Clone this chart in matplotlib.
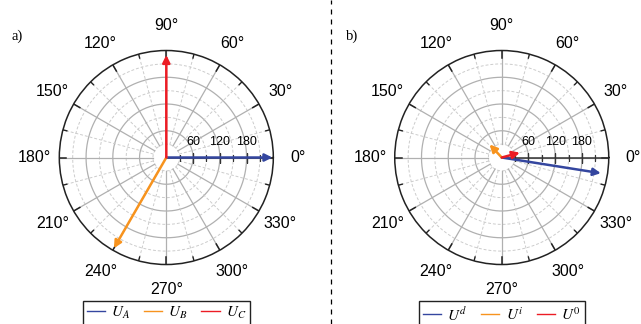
import numpy as np
import matplotlib.pyplot as plt
from matplotlib.lines import Line2D

plt.rcParams['font.family'] = ['Liberation Sans', 'DejaVu Sans']
plt.rcParams['mathtext.fontset'] = 'stix'

# panel a) phase voltages
a_labels = [r'$U_A$', r'$U_B$', r'$U_C$']
a_angles = [0, 240, 90]
a_mags = [238, 235, 230]

# panel b) sequence components
b_labels = [r'$U^{d}$', r'$U^{i}$', r'$U^{0}$']
b_angles = [351, 133, 15]
b_mags = [225, 40, 42]

colors = ['#34469f', '#f7931e', '#ec1c24']
r_max = 240
r_labels = [60, 120, 180]
theta_labels = list(range(0, 360, 30))


def draw_polar(ax, angles, mags):
    ax.set_ylim(0, r_max)
    ax.set_xticks([])
    ax.set_yticks([])
    ax.grid(False)
    ax.spines['polar'].set_color('#222222')
    ax.spines['polar'].set_linewidth(1.1)

    full = np.linspace(0, 2 * np.pi, 361)
    # circles: solid at 60/120/180, dashed in between
    for r in [60, 120, 180]:
        ax.plot(full, np.full_like(full, r), color='#b0b0b0', lw=0.9, zorder=1)
    for r in [30, 90, 150, 210]:
        ax.plot(full, np.full_like(full, r), color='#cccccc', lw=0.7, ls=(0, (3, 2)), zorder=1)
    # spokes
    for d in range(0, 360, 30):
        t = np.radians(d)
        ax.plot([t, t], [30, r_max], color='#b0b0b0', lw=0.9, zorder=1)
        ax.plot([t, t], [r_max - 16, r_max], color='#222222', lw=1.1, zorder=2)
    for d in range(15, 360, 30):
        t = np.radians(d)
        ax.plot([t, t], [30, r_max], color='#cccccc', lw=0.7, ls=(0, (3, 2)), zorder=1)
        ax.plot([t, t], [r_max - 9, r_max], color='#222222', lw=1.0, zorder=2)
    # radial axis along 0 deg
    ax.plot([0, 0], [0, r_max], color='#333333', lw=1.1, zorder=2)
    ax.plot(np.zeros(3), [60, 120, 180], ls='none', marker='|', ms=7,
            mew=1.0, color='#333333', zorder=2)
    ax.plot(np.zeros(4), [30, 90, 150, 210], ls='none', marker='|', ms=4,
            mew=0.9, color='#333333', zorder=2)
    for r in r_labels:
        ax.annotate(str(r), xy=(0, r), xytext=(0, 6.5), textcoords='offset points',
                    ha='center', va='bottom', fontsize=9)

    for d in theta_labels:
        ax.text(np.radians(d), 1.23 * r_max, f'{d}°', ha='center', va='center',
                fontsize=11.5, clip_on=False)

    for ang, mag, c in zip(angles, mags, colors):
        ax.annotate('', xy=(np.radians(ang), mag), xytext=(0, 0),
                    arrowprops=dict(arrowstyle='-|>', color=c, lw=1.8,
                                    mutation_scale=11, shrinkA=0, shrinkB=0),
                    zorder=4)

    return [Line2D([], [], color=c, lw=1.0) for c in colors]


fig = plt.figure(figsize=(6.41, 3.24), dpi=100)
ax1 = fig.add_axes([0.0925, 0.1836, 0.3339, 0.6605], projection='polar')
ax2 = fig.add_axes([0.6158, 0.1836, 0.3339, 0.6605], projection='polar')

h1 = draw_polar(ax1, a_angles, a_mags)
h2 = draw_polar(ax2, b_angles, b_mags)

for h, labs, xc in [(h1, a_labels, 166.3 / 641), (h2, b_labels, 501.7 / 641)]:
    fig.legend(h, labs, loc='upper center', bbox_to_anchor=(xc, 1 - 301 / 324), ncol=3,
               frameon=True, fancybox=False, edgecolor='#222222', fontsize=11,
               handlelength=1.2, handletextpad=0.4, columnspacing=0.9,
               borderpad=0.25, borderaxespad=0, framealpha=1)

fig.text(11 / 641, 1 - 36 / 324, 'a)', family='Liberation Serif', fontsize=10.5, va='center')
fig.text(346 / 641, 1 - 36 / 324, 'b)', family='Liberation Serif', fontsize=10.5, va='center')

fig.add_artist(Line2D([331 / 641, 331 / 641], [0, 1], color='black', lw=0.9,
                      ls=(0, (4, 4)), transform=fig.transFigure))

fig.savefig('out.png', dpi=100)
